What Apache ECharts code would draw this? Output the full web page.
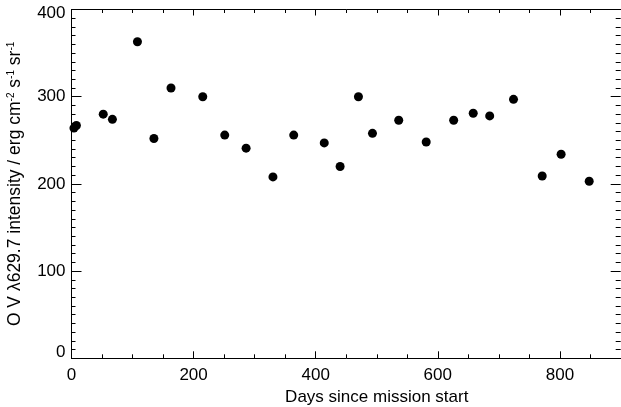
<!DOCTYPE html>
<html>
<head>
<meta charset="utf-8">
<script src="https://cdn.jsdelivr.net/npm/echarts@6/dist/echarts.min.js"></script>
<style>
html,body{margin:0;padding:0;background:#fff;}
#chart{width:621px;height:407px;}
</style>
</head>
<body>
<div id="chart"></div>
<script>
// Data
const days = [4, 8, 52, 67, 108, 135, 163, 215, 251, 286, 330, 364, 414, 440, 470, 493, 536, 581, 626, 658, 685, 724, 771, 802, 848];
const intensity = [264, 267, 280, 274, 363, 252, 310, 300, 256, 241, 208, 256, 247, 220, 300, 258, 273, 248, 273, 281, 278, 297, 209, 234, 203];
const xTicks = [0, 200, 400, 600, 800];
const yTicks = [0, 100, 200, 300, 400];
const xTitle = 'Days since mission start';
const yTitle = 'O V \u03bb629.7 intensity / erg cm{sup|-2} s{sup|-1} sr{sup|-1}';

const points = days.map((d, i) => [d, intensity[i]]);
const FONT = '"Liberation Sans", Arial, Helvetica, sans-serif';
const FS = 17;

const chart = echarts.init(document.getElementById('chart'), null, {renderer: 'canvas'});

const line = {show: true, onZero: false, lineStyle: {color: '#000', width: 1}};
const xCommon = {
  type: 'value', min: 0, max: 1000, interval: 200,
  splitLine: {show: false}, axisLine: line
};
const yCommon = {
  type: 'value', min: 0, max: 400, interval: 100,
  splitLine: {show: false}, axisLine: line
};

chart.setOption({
  animation: false,
  backgroundColor: '#fff',
  grid: {left: 71.5, top: 9.5, width: 610.5, height: 348.8, outerBoundsMode: 'none', containLabel: false},
  xAxis: [
    Object.assign({}, xCommon, {
      position: 'bottom',
      name: xTitle, nameLocation: 'middle', nameGap: 23,
      nameTextStyle: {fontFamily: FONT, fontSize: FS, color: '#000'},
      axisTick: {show: true, inside: true, length: 7, lineStyle: {color: '#000', width: 1}},
      minorTick: {show: true, splitNumber: 4, length: 4, lineStyle: {color: '#000', width: 1}},
      axisLabel: {show: true, margin: 9, fontFamily: FONT, fontSize: FS, color: '#000',
        formatter: v => xTicks.indexOf(v) >= 0 ? String(v) : ''}
    }),
    Object.assign({}, xCommon, {
      position: 'top',
      axisTick: {show: true, inside: true, length: 6, lineStyle: {color: '#000', width: 1}},
      minorTick: {show: true, splitNumber: 4, length: 3.5, lineStyle: {color: '#000', width: 1}},
      axisLabel: {show: false}
    })
  ],
  yAxis: [
    Object.assign({}, yCommon, {
      position: 'left',
      name: yTitle, nameLocation: 'middle', nameGap: 47, nameRotate: 90,
      nameTextStyle: {fontFamily: FONT, fontSize: 17.5, color: '#000',
        rich: {sup: {fontFamily: FONT, fontSize: 10, color: '#000', verticalAlign: 'top'}}},
      axisTick: {show: true, inside: true, length: 10, lineStyle: {color: '#000', width: 1}},
      minorTick: {show: true, splitNumber: 10, length: 4, lineStyle: {color: '#000', width: 1}},
      axisLabel: {show: true, margin: 6, fontFamily: FONT, fontSize: FS, color: '#000',
        formatter: v => {
          if (yTicks.indexOf(v) < 0) return '';
          if (v === 0) return '{lo|0}';
          if (v === 400) return '{hi|400}';
          return String(v);
        },
        rich: {
          lo: {fontFamily: FONT, fontSize: FS, color: '#000', padding: [0, 0, 12, 0]},
          hi: {fontFamily: FONT, fontSize: FS, color: '#000', padding: [8, 0, 0, 0]}
        }
      }
    }),
    Object.assign({}, yCommon, {
      position: 'right', offset: -61.3,
      axisLine: {show: false, onZero: false},
      axisTick: {show: true, inside: true, length: 10, lineStyle: {color: '#000', width: 1}},
      minorTick: {show: true, splitNumber: 10, length: 5, lineStyle: {color: '#000', width: 1}},
      axisLabel: {show: false}
    })
  ],
  series: [{
    type: 'scatter',
    xAxisIndex: 0, yAxisIndex: 0,
    data: points,
    symbol: 'circle',
    symbolSize: 9,
    itemStyle: {color: '#000', opacity: 1},
    emphasis: {disabled: true}
  }]
});
</script>
</body>
</html>
